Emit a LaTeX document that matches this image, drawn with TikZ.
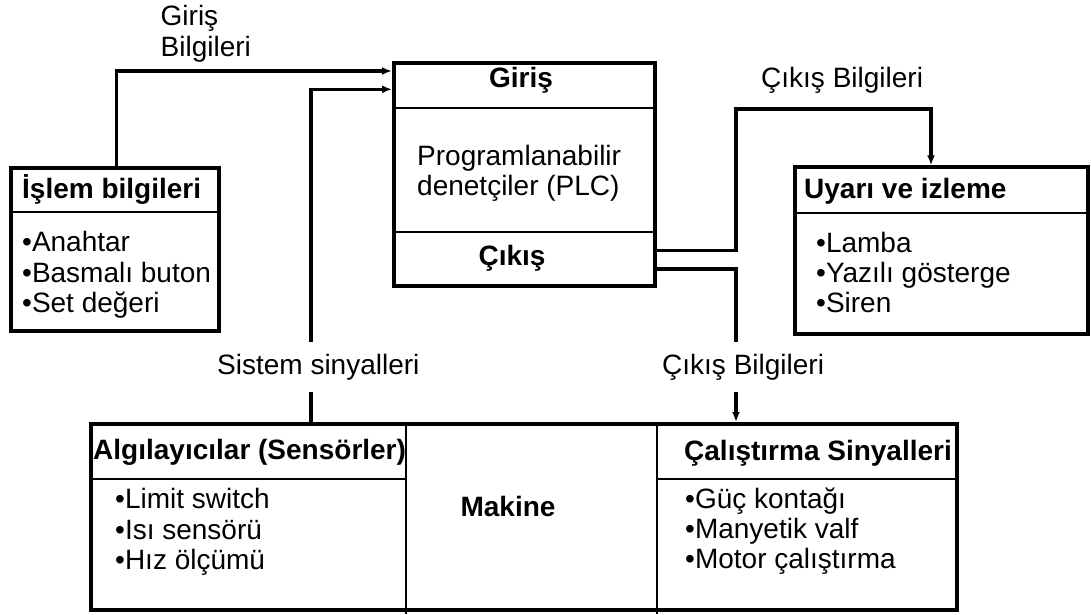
\documentclass[tikz,border=0pt]{standalone}
\usepackage{fontspec}
\setmainfont{Liberation Sans}
\usetikzlibrary{arrows.meta}
\tikzset{
  box/.style={draw, line width=4pt, inner sep=0pt},
  divider/.style={line width=2pt},
  conn/.style={line width=3.5pt},
  arr/.style={conn, -{Latex[length=10pt,width=8pt]}},
  txt/.style={inner sep=0pt, anchor=base west, font=\fontsize{28}{30}\selectfont},
  btxt/.style={txt, font=\fontsize{28}{30}\selectfont\bfseries},
  gaplbl/.style={txt, fill=white, inner ysep=12pt},
}
\begin{document}
\begin{tikzpicture}[x=1pt,y=-1pt]
\useasboundingbox (0,0) rectangle (1091,615);

% boxes
\node[box, minimum width=208pt, minimum height=163pt] (islem) at (115,249.5) {};
\node[box, minimum width=260.5pt, minimum height=222pt] (plc) at (524.25,174.5) {};
\node[box, minimum width=293.5pt, minimum height=166.7pt] (uyari) at (941.25,250.65) {};
\node[box, minimum width=866pt, minimum height=185.7pt] (makine) at (523.5,516.85) {};

% dividers
\draw[divider] (islem.west |- 0,212) -- (islem.east |- 0,212);
\draw[divider] (plc.west |- 0,108.3) -- (plc.east |- 0,108.3);
\draw[divider] (plc.west |- 0,231.7) -- (plc.east |- 0,231.7);
\draw[divider] (uyari.west |- 0,212.7) -- (uyari.east |- 0,212.7);
\draw[divider] (406,424) -- (406,614);
\draw[divider] (657,424) -- (657,614);
\draw[divider] (makine.west |- 0,479) -- (406,479);
\draw[divider] (657,479) -- (makine.east |- 0,479);

% connectors
\draw[arr] (islem.north -| 116.5,0) |- (plc.west |- 0,71);
\draw[arr] (makine.north -| 311,0) |- (plc.west |- 0,89.3);
\draw[arr] (plc.east |- 0,250.5) -| (736,109) -| (uyari.north -| 931,0);
\draw[arr] (plc.east |- 0,269) -| (makine.north -| 736,0);

% connector labels
\node[txt] (gb1) at (160.5,26) {Giriş};
\node[txt] (gb2) at (160.5,57) {Bilgileri};
\node[txt] (cb1) at (761,88) {Çıkış Bilgileri};
\node[gaplbl] (cb2) at (662,374) {Çıkış Bilgileri};
\node[gaplbl] (ss) at (217,374) {Sistem sinyalleri};

% İşlem bilgileri
\node[btxt] (islemT) at (22,198) {İşlem bilgileri};
\node[txt] (islem1) at (22,251) {•Anahtar};
\node[txt] (islem2) at (22,282) {•Basmalı buton};
\node[txt] (islem3) at (22,312) {•Set değeri};

% PLC
\node[btxt, anchor=base] (plcIn) at (521,88) {Giriş};
\node[txt] (plc1) at (417,165) {Programlanabilir};
\node[txt] (plc2) at (417,195) {denetçiler (PLC)};
\node[btxt, anchor=base] (plcOut) at (512,265) {Çıkış};

% Uyarı ve izleme
\node[btxt] (uyariT) at (804,198) {Uyarı ve izleme};
\node[txt] (uyari1) at (816,252) {•Lamba};
\node[txt] (uyari2) at (816,282) {•Yazılı gösterge};
\node[txt] (uyari3) at (816,312) {•Siren};

% Sensors
\node[btxt] (sensT) at (93,459) {Algılayıcılar (Sensörler)};
\node[txt] (sens1) at (115,508) {•Limit switch};
\node[txt] (sens2) at (115,539) {•Isı sensörü};
\node[txt] (sens3) at (115,569) {•Hız ölçümü};

% Makine
\node[btxt, anchor=base] (mak) at (508,516) {Makine};

% Çalıştırma
\node[btxt] (calT) at (684,460) {Çalıştırma Sinyalleri};
\node[txt] (cal1) at (685,508) {•Güç kontağı};
\node[txt] (cal2) at (685,538) {•Manyetik valf};
\node[txt] (cal3) at (685,568) {•Motor çalıştırma};
\end{tikzpicture}
\end{document}
